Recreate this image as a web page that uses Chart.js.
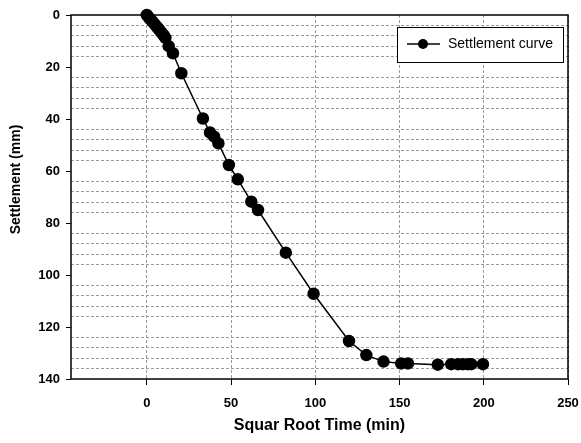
<!DOCTYPE html>
<html>
<head>
<meta charset="utf-8">
<script src="https://cdn.jsdelivr.net/npm/chart.js@4"></script>
<style>
  body { margin: 0; background: #fff; }
  #wrap { width: 581px; height: 443px; }
</style>
</head>
<body>
<div id="wrap"><canvas id="chart" width="581" height="443"></canvas></div>
<script>
// square root time (min) and settlement (mm)
let sqrtTime = [0, 1, 2, 3, 4, 5, 6, 7, 8, 9, 10, 11, 13, 15.5, 20.5, 33.3, 37.5, 40, 42.5, 48.7, 54, 62, 66, 82.5, 99, 120, 130.3, 140.5, 151, 155, 172.7, 180.7, 184.7, 187.6, 190.6, 192.6, 199.5];
let settlement = [0, 0.8, 1.6, 2.3, 3, 3.8, 4.6, 5.4, 6.2, 7, 7.8, 8.8, 12, 14.7, 22.4, 39.8, 45.2, 46.8, 49.4, 57.7, 63.2, 71.8, 75, 91.4, 107.2, 125.4, 130.8, 133.3, 134, 134, 134.5, 134.3, 134.3, 134.3, 134.3, 134.3, 134.3];
let xTicks = [0, 50, 100, 150, 200, 250];
let yTicks = [0, 20, 40, 60, 80, 100, 120, 140];

let points = [];
for (let i = 0; i < sqrtTime.length; i++) {
    points.push({ x: sqrtTime[i], y: settlement[i] });
}

const frame = {
    id: 'frame',
    beforeDatasetsDraw(chart) {
        let a = chart.chartArea, ctx = chart.ctx;
        ctx.save();
        ctx.strokeStyle = '#000';
        ctx.lineWidth = 1.5;
        ctx.strokeRect(a.left, a.top, a.right - a.left, a.bottom - a.top);
        ctx.restore();
    },
    afterDraw(chart) {
        // legend box
        let ctx = chart.ctx;
        let ds = chart.data.datasets[0];
        ctx.save();
        ctx.fillStyle = '#fff';
        ctx.fillRect(397, 27, 166, 35);
        ctx.strokeStyle = '#000';
        ctx.lineWidth = 1;
        ctx.strokeRect(397.5, 27.5, 166, 35);
        ctx.lineWidth = 1.5;
        ctx.beginPath();
        ctx.moveTo(407, 44);
        ctx.lineTo(440, 44);
        ctx.stroke();
        ctx.fillStyle = '#000';
        ctx.beginPath();
        ctx.arc(423, 44, 5, 0, Math.PI * 2);
        ctx.fill();
        ctx.font = '14px "Liberation Sans", Arial, sans-serif';
        ctx.textBaseline = 'middle';
        ctx.fillText(ds.label, 448, 44);
        ctx.restore();
    }
};

new Chart(document.getElementById('chart'), {
    type: 'scatter',
    data: {
        datasets: [{
            label: 'Settlement curve',
            data: points,
            showLine: true,
            borderColor: '#000',
            backgroundColor: '#000',
            borderWidth: 1.5,
            pointRadius: 5.5,
            pointHoverRadius: 5.5,
            clip: false
        }]
    },
    options: {
        responsive: false,
        animation: false,
        layout: { padding: { left: 0, top: 15, right: 13, bottom: 0 }, autoPadding: false },
        plugins: {
            legend: { display: false },
            tooltip: { enabled: false }
        },
        scales: {
            x: {
                type: 'linear',
                min: -45,
                max: 250,
                afterBuildTicks: s => { s.ticks = xTicks.map(v => ({ value: v })); },
                afterFit: s => {
                    s.height = 64;
                    s.paddingLeft = 0;
                    s.paddingRight = 0;
                },
                grid: {
                    color: '#9a9a9a',
                    lineWidth: 1,
                    tickColor: '#000',
                    tickLength: 6
                },
                border: { display: false, dash: [3, 2] },
                ticks: {
                    color: '#000',
                    padding: 11,
                    maxRotation: 0,
                    font: { family: '"Liberation Sans", Arial', size: 13, weight: 'bold' }
                },
                title: {
                    display: true,
                    text: 'Squar Root Time (min)',
                    color: '#000',
                    padding: { top: 0, bottom: 8 },
                    font: { family: '"Liberation Sans", Arial', size: 16, weight: 'bold' }
                }
            },
            y: {
                type: 'linear',
                reverse: true,
                min: 0,
                max: 140,
                afterFit: s => {
                    s.width = 71;
                    s.paddingTop = 0;
                    s.paddingBottom = 0;
                },
                grid: {
                    color: c => (c.tick && c.tick.value % 20 === 0) ? 'rgba(0,0,0,0)' : '#9a9a9a',
                    lineWidth: 1,
                    tickColor: c => (c.tick && yTicks.includes(c.tick.value)) ? '#000' : 'rgba(0,0,0,0)',
                    tickLength: 5
                },
                border: { display: false, dash: [3, 2] },
                ticks: {
                    stepSize: 4,
                    autoSkip: false,
                    color: '#000',
                    padding: 6,
                    callback: v => yTicks.includes(v) ? v : '',
                    font: { family: '"Liberation Sans", Arial', size: 13, weight: 'bold' }
                },
                title: {
                    display: true,
                    text: '         Settlement (mm)',
                    color: '#000',
                    padding: { top: 8, bottom: 0 },
                    font: { family: '"Liberation Sans", Arial', size: 14, weight: 'bold' }
                }
            }
        }
    },
    plugins: [frame]
});
</script>
</body>
</html>
